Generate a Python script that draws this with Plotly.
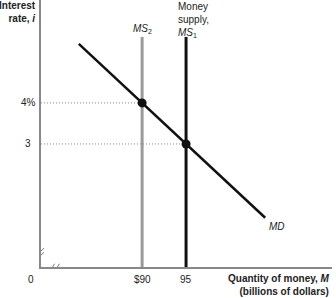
import plotly.graph_objects as go

# Data
md_x = [82.8, 104.0]
md_y = [5.44, 1.2]
ms2_x = 90
ms1_x = 95
ms_top = 5.61
eq_x = [90, 95]
eq_y = [4, 3]
y_tick_vals = [4, 3]
y_tick_text = ["4%", "3"]
x_tick_vals = [90, 95]
x_tick_text = ["$90", "95"]

X0, X1 = 78.5, 111.6
Y0, Y1 = 0, 6.51
FONT = "Liberation Sans, Arial, sans-serif"

fig = go.Figure()

# dotted guides
for xv, yv in zip(eq_x, eq_y):
    fig.add_trace(go.Scatter(x=[X0, xv], y=[yv, yv], mode="lines",
                             line=dict(color="#888", width=1, dash="1px,2px"),
                             hoverinfo="skip", showlegend=False))

# MS2 (gray), MS1 (black)
fig.add_trace(go.Scatter(x=[ms2_x, ms2_x], y=[0, ms_top], mode="lines",
                         line=dict(color="#9a9a9a", width=3), showlegend=False))
fig.add_trace(go.Scatter(x=[ms1_x, ms1_x], y=[0, ms_top], mode="lines",
                         line=dict(color="#111", width=3), showlegend=False))
# MD
fig.add_trace(go.Scatter(x=md_x, y=md_y, mode="lines",
                         line=dict(color="#111", width=2.5), showlegend=False))
# equilibrium points
fig.add_trace(go.Scatter(x=eq_x, y=eq_y, mode="markers",
                         marker=dict(color="#111", size=9), showlegend=False))

ann = []
for v, t, sh in zip(y_tick_vals, y_tick_text, [-3, -8]):
    ann.append(dict(x=0, xref="paper", y=v, yref="y", text=t, showarrow=False,
                    xanchor="right", yanchor="middle", xshift=sh,
                    font=dict(size=10, color="#222", family=FONT)))
for v, t in zip(x_tick_vals, x_tick_text):
    ann.append(dict(x=v, xref="x", y=0, yref="paper", text=t, showarrow=False,
                    xanchor="center", yanchor="top", yshift=-5,
                    font=dict(size=10, color="#222", family=FONT)))
ann.append(dict(x=0, xref="paper", y=0, yref="paper", text="0", showarrow=False,
                xanchor="right", yanchor="top", xshift=-5, yshift=-5,
                font=dict(size=10, color="#222", family=FONT)))
ann.append(dict(x=0, xref="paper", y=1, yref="paper",
                text="<b>Interest</b><br><b>rate, <i>i</i></b>", showarrow=False,
                xanchor="right", yanchor="top", xshift=-3, yshift=2, align="right",
                font=dict(size=10, color="#222", family=FONT)))
ann.append(dict(x=1, xref="paper", y=0, yref="paper",
                text="<b>Quantity of money, <i>M</i></b><br><b>(billions of dollars)</b>",
                showarrow=False, xanchor="right", yanchor="top", yshift=-4, align="right",
                font=dict(size=10, color="#222", family=FONT)))
ann.append(dict(x=ms2_x, xref="x", y=ms_top, yref="y",
                text="<i>MS</i><sub>2</sub>", showarrow=False,
                xanchor="center", yanchor="bottom", yshift=0,
                font=dict(size=10, color="#222", family=FONT)))
ann.append(dict(x=ms1_x, xref="x", y=1, yref="paper",
                text="Money<br>supply,<br><i>MS</i><sub>1</sub>", showarrow=False,
                xanchor="left", yanchor="top", xshift=-10, yshift=1, align="left",
                font=dict(size=10, color="#222", family=FONT)))
ann.append(dict(x=md_x[1], xref="x", y=md_y[1], yref="y",
                text="<i>MD</i>", showarrow=False,
                xanchor="left", yanchor="top", xshift=2, yshift=-1,
                font=dict(size=10, color="#222", family=FONT)))

# axis break marks
shapes = []
for dy in [0.0, 0.1]:
    shapes.append(dict(type="line", xref="x", yref="y",
                       x0=X0 - 0.35, x1=X0 + 0.35, y0=0.22 + dy, y1=0.36 + dy,
                       line=dict(color="#777", width=1)))
for dx in [0.0, 0.55]:
    shapes.append(dict(type="line", xref="x", yref="y",
                       x0=X0 + 1.1 + dx, x1=X0 + 1.55 + dx, y0=-0.08, y1=0.08,
                       line=dict(color="#777", width=1)))

fig.update_layout(
    width=336, height=298,
    margin=dict(l=41, r=4, t=0, b=31),
    paper_bgcolor="white", plot_bgcolor="white",
    xaxis=dict(range=[X0, X1], showgrid=False, zeroline=False, showticklabels=False,
               showline=True, linecolor="#888", linewidth=2, ticks=""),
    yaxis=dict(range=[Y0, Y1], showgrid=False, zeroline=False, showticklabels=False,
               showline=True, linecolor="#888", linewidth=2, ticks=""),
    annotations=ann, shapes=shapes,
    font=dict(family=FONT),
)

fig.write_html("out.html")
